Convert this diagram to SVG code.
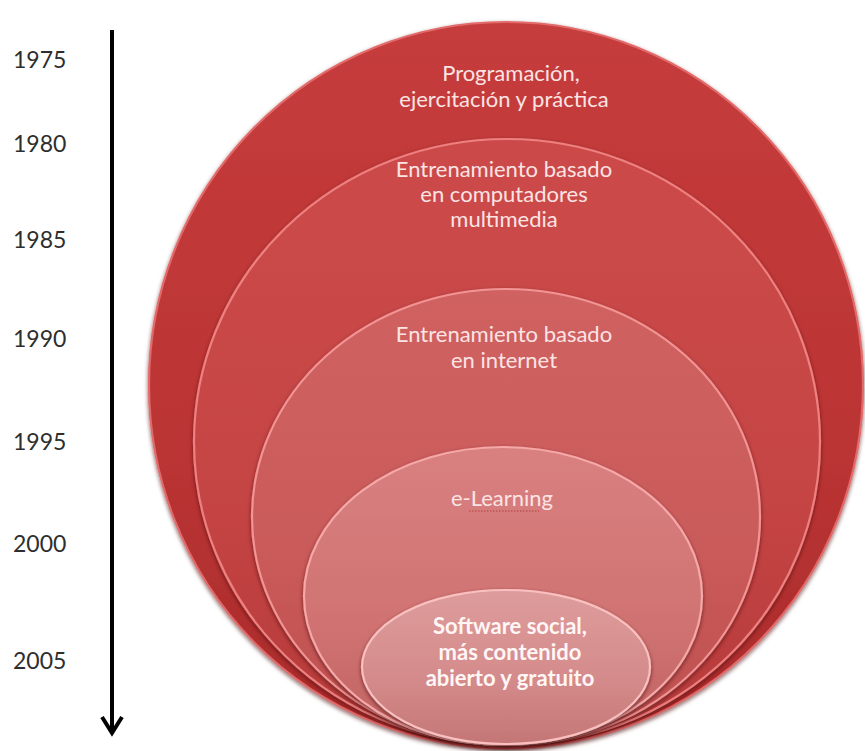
<svg xmlns="http://www.w3.org/2000/svg" width="865" height="751" viewBox="0 0 865 751">
<style>
.yr{font-family:Lato,"Liberation Sans",sans-serif;font-size:23px;fill:#2e2e2e}
.lbl{font-family:Lato,"Liberation Sans",sans-serif;font-size:22px;fill:#fbe4e4;text-anchor:middle}
.bold{font-weight:bold;fill:#fff6f6}
.ring{stroke-width:2.2}
</style>
<defs>
<filter id="sh" x="-10%" y="-10%" width="120%" height="125%">
<feDropShadow dx="0" dy="2" stdDeviation="2.2" flood-color="#4a0c0c" flood-opacity="0.65"/>
</filter>
<linearGradient id="g1" x1="0" y1="0" x2="0" y2="1">
<stop offset="0" stop-color="#c63c3c"/><stop offset="0.6" stop-color="#bb3434"/><stop offset="1" stop-color="#a82a2a"/>
</linearGradient>
<linearGradient id="g2" x1="0" y1="0" x2="0" y2="1">
<stop offset="0" stop-color="#cc4a4a"/><stop offset="0.6" stop-color="#c54444"/><stop offset="1" stop-color="#b53a3a"/>
</linearGradient>
<linearGradient id="g3" x1="0" y1="0" x2="0" y2="1">
<stop offset="0" stop-color="#d06262"/><stop offset="0.6" stop-color="#ca5a5a"/><stop offset="1" stop-color="#bc4e4e"/>
</linearGradient>
<linearGradient id="g4" x1="0" y1="0" x2="0" y2="1">
<stop offset="0" stop-color="#d98080"/><stop offset="0.6" stop-color="#d07272"/><stop offset="1" stop-color="#c06262"/>
</linearGradient>
<linearGradient id="g5" x1="0" y1="0" x2="0" y2="1">
<stop offset="0" stop-color="#de9c9c"/><stop offset="0.6" stop-color="#d48a8a"/><stop offset="1" stop-color="#c47676"/>
</linearGradient>
</defs>
<rect width="865" height="751" fill="#ffffff"/>

<g id="timeline">
<text class="yr" x="13" y="68">1975</text>
<text class="yr" x="13" y="152">1980</text>
<text class="yr" x="13" y="248">1985</text>
<text class="yr" x="13" y="347">1990</text>
<text class="yr" x="13" y="450">1995</text>
<text class="yr" x="13" y="552">2000</text>
<text class="yr" x="13" y="669">2005</text>
</g>

<g id="connectors">
<path d="M112,30 L112,733" fill="none" stroke="#000" stroke-width="4"/>
<path d="M102,717 L112,733 L122,717" fill="none" stroke="#000" stroke-width="4"/>
</g>

<g id="node1">
<ellipse cx="506" cy="385" rx="357" ry="363" fill="url(#g1)" stroke="#e26a6a" class="ring" filter="url(#sh)"/>
<text class="lbl" x="511" y="81">Programación,</text>
<text class="lbl" x="504" y="107">ejercitación y práctica</text>
</g>
<g id="node2">
<ellipse cx="507" cy="442" rx="313" ry="303" fill="url(#g2)" stroke="#ee8080" class="ring" filter="url(#sh)"/>
<text class="lbl" x="504" y="177">Entrenamiento basado</text>
<text class="lbl" x="504" y="202">en computadores</text>
<text class="lbl" x="504" y="227">multimedia</text>
</g>
<g id="node3">
<ellipse cx="506" cy="517" rx="254" ry="228" fill="url(#g3)" stroke="#f29494" class="ring" filter="url(#sh)"/>
<text class="lbl" x="504" y="342">Entrenamiento basado</text>
<text class="lbl" x="504" y="368">en internet</text>
</g>
<g id="node4">
<ellipse cx="503" cy="596" rx="199" ry="149" fill="url(#g4)" stroke="#f6a8a8" class="ring" filter="url(#sh)"/>
<text class="lbl" x="502" y="506">e-Learning</text>
<path d="M469,511 L539,511" stroke="#b04040" stroke-width="1.2" stroke-dasharray="1.5 1.5" fill="none"/>
</g>
<g id="node5">
<ellipse cx="506" cy="667" rx="144" ry="77" fill="url(#g5)" stroke="#fac0c0" class="ring" filter="url(#sh)"/>
<text class="lbl bold" x="510" y="634">Software social,</text>
<text class="lbl bold" x="510" y="660">más contenido</text>
<text class="lbl bold" x="510" y="686">abierto y gratuito</text>
</g>
</svg>
